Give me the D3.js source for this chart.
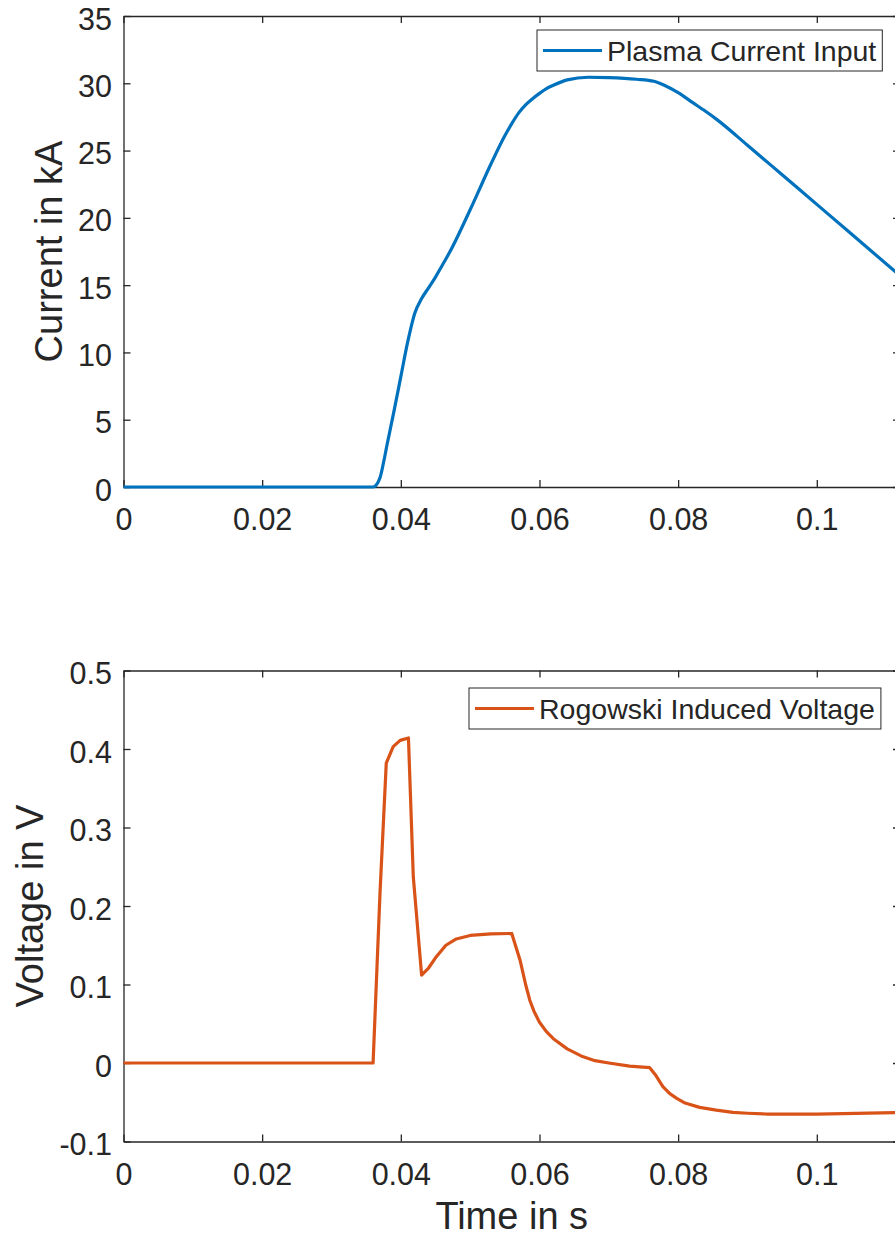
<!DOCTYPE html>
<html lang="en">
<head>
<meta charset="UTF-8">
<script src="https://cdn.jsdelivr.net/npm/d3@7"></script>
<style>
  body { margin:0; background:#fff; }
  svg { display:block; }
  .ax path, .ax line { stroke:#262626; stroke-width:1.3px; }
  .ax text { fill:#262626; font-family:"Liberation Sans", Arial, sans-serif; font-size:30.5px; }
  .lbl { fill:#262626; font-family:"Liberation Sans", Arial, sans-serif; font-size:38px; text-anchor:middle; }
  .leg text { fill:#262626; font-family:"Liberation Sans", Arial, sans-serif; font-size:28.5px; }
</style>
</head>
<body>
<script>
// time axis ticks (both panels)
var timeTicks = [0, 0.02, 0.04, 0.06, 0.08, 0.1];
var currentTicks = [0, 5, 10, 15, 20, 25, 30, 35];
var voltageTicks = [-0.1, 0, 0.1, 0.2, 0.3, 0.4, 0.5];

// plasma current input (kA)
var timeI = [0, 0.036, 0.037, 0.0375, 0.038, 0.039, 0.040, 0.041, 0.042, 0.043, 0.044, 0.045, 0.046,
  0.047, 0.050, 0.053, 0.055, 0.056, 0.057, 0.058, 0.059, 0.060, 0.061, 0.062, 0.064, 0.067, 0.070,
  0.074, 0.0765, 0.078, 0.080, 0.082, 0.084, 0.0856, 0.090, 0.095, 0.100, 0.105, 0.112];
var currentKA = [0, 0, 0.7, 1.8, 3.1, 5.6, 8.2, 10.8, 12.9, 14.0, 14.8, 15.6, 16.5,
  17.4, 20.6, 24.0, 26.1, 27.0, 27.8, 28.4, 28.85, 29.25, 29.6, 29.85, 30.25, 30.45, 30.42,
  30.3, 30.15, 29.85, 29.3, 28.6, 27.9, 27.3, 25.4, 23.2, 21.0, 18.8, 15.7];

// rogowski induced voltage (V)
var timeV = [0, 0.036, 0.037, 0.0379, 0.0389, 0.0399, 0.0411, 0.0418, 0.043, 0.044, 0.045, 0.0465,
  0.048, 0.050, 0.053, 0.056, 0.0572, 0.058, 0.0586, 0.0592, 0.060, 0.061, 0.062, 0.064, 0.066,
  0.068, 0.070, 0.073, 0.0759, 0.0768, 0.0778, 0.0788, 0.0798, 0.081, 0.0831, 0.0855, 0.0879,
  0.090, 0.0927, 0.100, 0.112];
var voltageV = [0, 0, 0.217, 0.382, 0.403, 0.411, 0.414, 0.237, 0.112, 0.121, 0.134, 0.150,
  0.158, 0.1625, 0.1645, 0.165, 0.131, 0.100, 0.080, 0.066, 0.052, 0.040, 0.031, 0.018, 0.009,
  0.003, 0.0, -0.004, -0.006, -0.016, -0.030, -0.039, -0.045, -0.051, -0.0565, -0.060, -0.063,
  -0.064, -0.065, -0.065, -0.063];

var W = 895, H = 1238;
var svg = d3.select("body").append("svg").attr("width", W).attr("height", H);

var left = 123.5, right = 900;
var x = d3.scaleLinear().domain([0, 0.112]).range([left, right]);

function panel(opt) {
  var y = d3.scaleLinear().domain(opt.ydom).range([opt.bottom, opt.top]);
  var g = svg.append("g");

  // box with inward ticks
  g.append("g").attr("class", "ax").attr("transform", "translate(0," + opt.bottom + ")")
    .call(d3.axisBottom(x).tickValues(timeTicks).tickSize(-7).tickSizeOuter(0).tickPadding(21.5)
      .tickFormat(function(d) { return d3.format("")(d); }));
  g.append("g").attr("class", "ax").attr("transform", "translate(0," + opt.top + ")")
    .call(d3.axisTop(x).tickValues(timeTicks).tickSize(-7).tickSizeOuter(0).tickFormat(""));
  var ya = g.append("g").attr("class", "ax").attr("transform", "translate(" + left + ",0)")
    .call(d3.axisLeft(y).tickValues(opt.yticks).tickSize(-7).tickSizeOuter(0).tickPadding(11.5)
      .tickFormat(opt.fmt));
  ya.selectAll("text").attr("dy", "0.43em");
  g.append("g").attr("class", "ax").attr("transform", "translate(" + right + ",0)")
    .call(d3.axisRight(y).tickValues(opt.yticks).tickSize(-7).tickSizeOuter(0).tickFormat(""));

  var line = d3.line()
    .curve(opt.curve)
    .x(function(d, i) { return x(opt.tx[i]); })
    .y(function(d) { return y(d); });

  g.append("path").datum(opt.vals)
    .attr("d", line)
    .attr("fill", "none")
    .attr("stroke", opt.color)
    .attr("stroke-width", 3.2)
    .attr("stroke-linejoin", "round");

  // y label
  g.append("text").attr("class", "lbl")
    .attr("transform", "translate(" + opt.ylx + "," + ((opt.top + opt.bottom) / 2) + ") rotate(-90)")
    .text(opt.ylabel);

  // legend
  var leg = g.append("g").attr("class", "leg");
  var box = leg.append("rect")
    .attr("x", opt.legX).attr("y", opt.legY).attr("height", 41)
    .attr("fill", "#fff").attr("stroke", "#262626").attr("stroke-width", 1);
  leg.append("line")
    .attr("x1", opt.legX + 6).attr("x2", opt.legX + 65)
    .attr("y1", opt.legY + 20.5).attr("y2", opt.legY + 20.5)
    .attr("stroke", opt.color).attr("stroke-width", 3.2);
  var t = leg.append("text")
    .attr("x", opt.legX + 70).attr("y", opt.legY + 31)
    .text(opt.legend);
  var tw = t.node().getComputedTextLength();
  box.attr("width", 70 + tw + 6);
}

panel({
  top: 16, bottom: 487, ydom: [0, 35], yticks: currentTicks,
  fmt: d3.format("d"),
  tx: timeI, vals: currentKA, color: "#0072BD", curve: d3.curveMonotoneX,
  ylabel: "Current in kA", ylx: 62,
  legend: "Plasma Current Input", legX: 537, legY: 30
});

panel({
  top: 670.5, bottom: 1141.5, ydom: [-0.1, 0.5], yticks: voltageTicks,
  fmt: function(d) { return d3.format("")(+d.toFixed(1)).replace("\u2212", "-"); },
  tx: timeV, vals: voltageV, color: "#D95319", curve: d3.curveLinear,
  ylabel: "Voltage in V", ylx: 43,
  legend: "Rogowski Induced Voltage", legX: 469, legY: 688
});

svg.append("text").attr("class", "lbl")
  .attr("x", (left + right) / 2).attr("y", 1229)
  .text("Time in s");
</script>
</body>
</html>
